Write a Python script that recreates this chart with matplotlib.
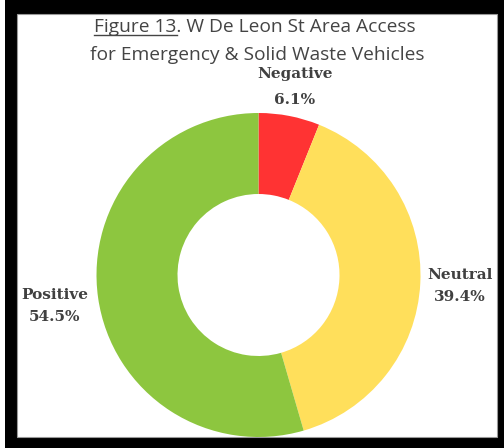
import numpy as np
import matplotlib
matplotlib.use("Agg")
import matplotlib.pyplot as plt
from matplotlib.patches import Rectangle
from matplotlib.lines import Line2D

# survey responses
categories = ["Negative", "Neutral", "Positive"]
shares = [6.1, 39.4, 54.5]
colors = ["#FF3333", "#FFDF5B", "#8DC63F"]

title_prefix = "Figure 13"
title_line1 = "Figure 13. W De Leon St Area Access"
title_line2 = "for Emergency & Solid Waste Vehicles"

W, H = 504, 448
fig = plt.figure(figsize=(W / 100, H / 100), dpi=100)
fig.patch.set_facecolor("white")

# black frame with white panel
fig.patches.append(Rectangle((5 / W, 0), (W - 5) / W, 1, transform=fig.transFigure,
                             facecolor="black", edgecolor="none", zorder=-10))
fig.patches.append(Rectangle((17 / W, 11 / H), (497 - 17) / W, (434 - 11) / H,
                             transform=fig.transFigure, facecolor="white",
                             edgecolor="#999999", linewidth=0.8, zorder=-9))

# donut
cx, cy, r = 258.5, 275, 162
ax = fig.add_axes([(cx - r) / W, (H - cy - r) / H, 2 * r / W, 2 * r / H])
wedges, _ = ax.pie(shares, colors=colors, startangle=90, counterclock=False,
                   radius=1.0, wedgeprops=dict(width=0.5, linewidth=0))
ax.set_xlim(-1, 1)
ax.set_ylim(-1, 1)
ax.set_aspect("auto")
ax.axis("off")

# labels outside each wedge: (x, name y, value y) in pixels from top-left
label_pos = {
    "Negative": (295, 74, 100),
    "Neutral": (460, 275, 297),
    "Positive": (55, 295, 317),
}
label_kw = dict(ha="center", va="center", fontsize=11, fontweight="bold",
                family="DejaVu Serif", color="#404040")
for name, val in zip(categories, shares):
    x, y1, y2 = label_pos[name]
    fig.text(x / W, 1 - y1 / H, name, **label_kw)
    fig.text(x / W, 1 - y2 / H, f"{val:.1f}%", **label_kw)

# title, with the figure number underlined
title_kw = dict(ha="center", va="baseline", fontsize=13.8, family="Open Sans", color="#444444")
t1 = fig.text(255 / W, 1 - 32 / H, title_line1, **title_kw)
fig.text(257 / W, 1 - 60 / H, title_line2, **title_kw)

fig.canvas.draw()
renderer = fig.canvas.get_renderer()
bb = t1.get_window_extent(renderer)
probe = fig.text(0, 0, title_prefix, fontsize=13.8, family="Open Sans")
pw = probe.get_window_extent(renderer).width
probe.remove()
uy = (H - 35) / H
fig.lines.append(Line2D([bb.x0 / W, (bb.x0 + pw) / W], [uy, uy], transform=fig.transFigure,
                        color="#444444", linewidth=1.0))

fig.savefig("out.png", dpi=100)
